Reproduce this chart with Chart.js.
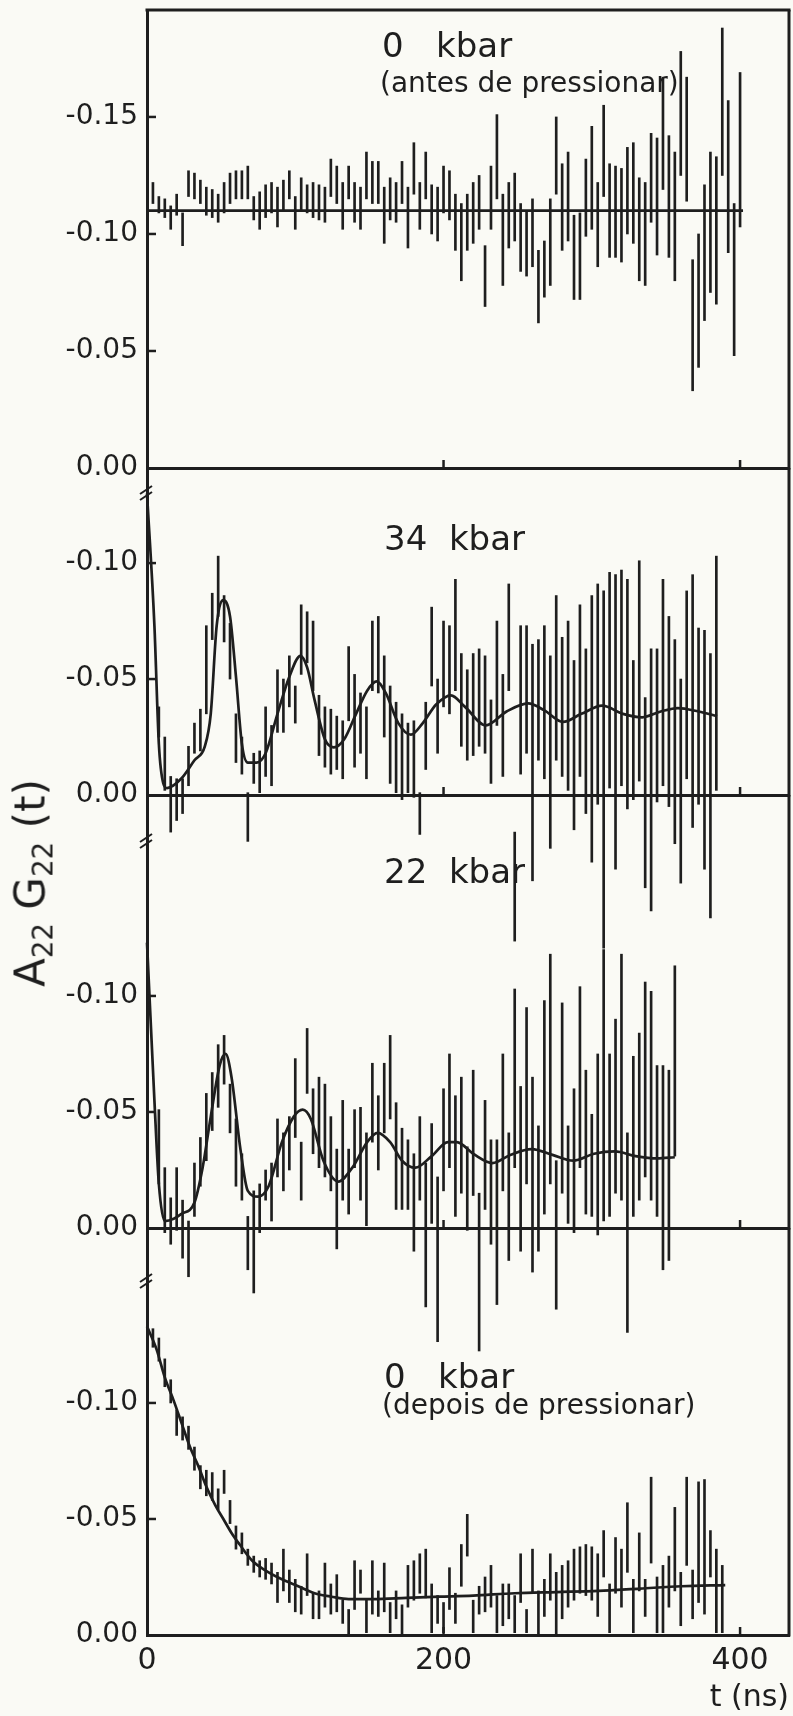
<!DOCTYPE html>
<html lang="pt">
<head>
<meta charset="utf-8">
<title>A22 G22 (t)</title>
<script src="https://cdn.jsdelivr.net/npm/chart.js@4.4.1/dist/chart.umd.min.js"></script>
<style>
  html, body { margin: 0; padding: 0; background: #fafaf5; overflow: hidden; }
  #fig { position: relative; width: 793px; height: 1716px; font-family: 'DejaVu Sans', sans-serif; color: #1e1e1e; }
  #fig canvas { position: absolute; left: 0; top: 0; }
  .lbl { position: absolute; white-space: pre; line-height: normal; }
  .big { font-size: 34px; }
  .sub { font-size: 28px; }
  #ytitle { position: absolute; left: 30px; top: 883px; font-size: 42px; white-space: nowrap;
            transform: translate(-50%, -50%) rotate(-90deg); }
  #ytitle sub { font-size: 0.66em; vertical-align: -0.28em; line-height: 0; }
</style>
</head>
<body>
<div id="fig">
  <canvas id="c1" width="793" height="1716"></canvas>
  <canvas id="c2" width="793" height="1716"></canvas>
  <canvas id="c3" width="793" height="1716"></canvas>
  <canvas id="c4" width="793" height="1716"></canvas>

  <div class="lbl big" style="left:382px;top:25px">0   kbar</div>
  <div class="lbl sub" style="left:380px;top:66px">(antes de pressionar)</div>
  <div class="lbl big" style="left:384px;top:518px">34  kbar</div>
  <div class="lbl big" style="left:384px;top:851px">22  kbar</div>
  <div class="lbl big" style="left:384px;top:1356px">0   kbar</div>
  <div class="lbl sub" style="left:382px;top:1388px">(depois de pressionar)</div>
  <div id="ytitle">A<sub>22</sub> G<sub>22</sub> (t)</div>
</div>

<script>
/* ── eixos ── */
const X_MAX = 433;
const X_TICKS = [0, 200, 400];
const Y_TICKS_TOP = [-0.15, -0.10, -0.05, 0];
const Y_TICKS = [-0.10, -0.05, 0];

// canais de tempo (ns), comuns aos quatro painéis
const CHANNEL_T = [4, 8, 12, 16, 20, 24, 28, 32, 36, 40, 44, 48, 52, 56, 60, 64, 68, 72, 76, 80,
  84, 88, 92, 96, 100, 104, 108, 112, 116, 120, 124, 128, 132, 136, 140, 144, 148, 152, 156, 160,
  164, 168, 172, 176, 180, 184, 188, 192, 196, 200, 204, 208, 212, 216, 220, 224, 228, 232, 236, 240,
  244, 248, 252, 256, 260, 264, 268, 272, 276, 280, 284, 288, 292, 296, 300, 304, 308, 312, 316, 320,
  324, 328, 332, 336, 340, 344, 348, 352, 356, 360, 364, 368, 372, 376, 380, 384, 388, 392, 396, 400];

/* ── 0 kbar (antes de pressionar) ── */
const p1Top = [-0.122, -0.116, -0.115, -0.112, -0.117, -0.109, -0.127, -0.126, -0.123, -0.120,
  -0.119, -0.117, -0.122, -0.126, -0.127, -0.127, -0.129, -0.116, -0.118, -0.121,
  -0.122, -0.120, -0.123, -0.127, -0.116, -0.124, -0.121, -0.122, -0.121, -0.120,
  -0.132, -0.129, -0.122, -0.129, -0.122, -0.120, -0.135, -0.131, -0.131, -0.120,
  -0.124, -0.122, -0.131, -0.120, -0.139, -0.122, -0.135, -0.121, -0.120, -0.129,
  -0.127, -0.117, -0.113, -0.117, -0.122, -0.125, -0.095, -0.129, -0.151, -0.117,
  -0.122, -0.126, -0.113, -0.110, -0.115, -0.093, -0.097, -0.115, -0.150, -0.130,
  -0.135, -0.108, -0.109, -0.132, -0.146, -0.122, -0.155, -0.130, -0.129, -0.128,
  -0.137, -0.139, -0.124, -0.122, -0.143, -0.141, -0.167, -0.142, -0.135, -0.178,
  -0.167, -0.089, -0.100, -0.121, -0.135, -0.133, -0.188, -0.157, -0.113, -0.169];
const p1Bot = [-0.113, -0.109, -0.107, -0.102, -0.108, -0.095, -0.116, -0.115, -0.113, -0.108,
  -0.107, -0.105, -0.109, -0.113, -0.115, -0.115, -0.115, -0.106, -0.102, -0.107,
  -0.109, -0.103, -0.110, -0.115, -0.102, -0.110, -0.109, -0.107, -0.106, -0.105,
  -0.116, -0.113, -0.102, -0.115, -0.105, -0.102, -0.115, -0.113, -0.113, -0.096,
  -0.106, -0.105, -0.113, -0.094, -0.117, -0.102, -0.115, -0.100, -0.097, -0.109,
  -0.106, -0.093, -0.080, -0.093, -0.096, -0.102, -0.069, -0.102, -0.115, -0.078,
  -0.094, -0.097, -0.084, -0.082, -0.086, -0.062, -0.073, -0.078, -0.117, -0.093,
  -0.097, -0.072, -0.072, -0.099, -0.102, -0.086, -0.116, -0.090, -0.090, -0.088,
  -0.100, -0.096, -0.080, -0.078, -0.105, -0.091, -0.119, -0.090, -0.080, -0.125,
  -0.114, -0.033, -0.043, -0.063, -0.075, -0.070, -0.125, -0.092, -0.048, -0.103];
const p1FitT = [0, 402];
const p1FitV = [-0.110, -0.110];

/* ── 34 kbar ── */
const p2Top = [-0.038, -0.025, -0.008, -0.007, -0.007, -0.021, -0.031, -0.037, -0.073, -0.087,
  -0.103, -0.086, -0.074, -0.035, -0.025, -0.001, -0.018, -0.019, -0.038, -0.030,
  -0.054, -0.050, -0.060, -0.047, -0.082, -0.079, -0.075, -0.043, -0.038, -0.037,
  -0.034, -0.032, -0.064, -0.052, -0.044, -0.038, -0.075, -0.077, -0.060, -0.047,
  -0.040, -0.035, -0.031, -0.032, -0.001, -0.040, -0.081, -0.050, -0.075, -0.073,
  -0.093, -0.061, -0.054, -0.061, -0.063, -0.060, -0.041, -0.075, -0.052, -0.091,
  0.016, -0.073, -0.073, -0.065, -0.067, -0.073, -0.060, -0.086, -0.068, -0.075,
  -0.058, -0.082, -0.063, -0.086, -0.091, -0.088, -0.096, -0.095, -0.097, -0.093,
  -0.058, -0.101, -0.042, -0.063, -0.063, -0.093, -0.077, -0.067, -0.050, -0.088,
  -0.095, -0.072, -0.071, -0.061, -0.103];
const p2Bot = [-0.025, -0.002, 0.016, 0.011, 0.008, -0.004, -0.018, -0.019, -0.035, -0.067,
  -0.077, -0.066, -0.050, -0.014, -0.009, 0.020, -0.005, -0.001, -0.008, -0.004,
  -0.027, -0.027, -0.038, -0.031, -0.052, -0.057, -0.045, -0.017, -0.012, -0.009,
  -0.011, -0.007, -0.032, -0.012, -0.018, -0.007, -0.045, -0.044, -0.025, -0.005,
  -0.001, 0.002, -0.001, 0.001, 0.017, -0.011, -0.047, -0.018, -0.038, -0.035,
  -0.045, -0.021, -0.015, -0.017, -0.021, -0.018, -0.005, -0.030, -0.008, -0.045,
  0.063, -0.009, -0.018, 0.037, -0.015, -0.007, 0.023, -0.015, -0.008, -0.002,
  0.015, -0.008, 0.008, 0.029, 0.004, 0.066, -0.003, 0.032, -0.004, 0.006,
  0.002, -0.006, 0.040, 0.050, 0.003, -0.004, 0.005, 0.021, 0.038, -0.007,
  0.014, 0.004, 0.032, 0.053, -0.002];
const p2FitT = [0, 5, 8, 11, 13.5, 23, 32, 39, 43, 47, 51.5, 56, 60, 64, 68, 74, 80, 88, 96, 103.5,
  108, 113, 120, 126, 133, 141, 148.5, 155, 161, 169.5, 178, 186, 195, 205, 214.5, 228.5, 242.5, 257,
  268, 280.5, 293, 307, 321, 334, 346.5, 358, 372, 384.5];
const p2FitV = [-0.130, -0.073, -0.022, -0.005, -0.003, -0.007, -0.015, -0.021, -0.035, -0.073,
  -0.084, -0.077, -0.051, -0.022, -0.014, -0.014, -0.018, -0.035, -0.051, -0.060,
  -0.055, -0.041, -0.024, -0.0205, -0.024, -0.035, -0.045, -0.049, -0.044, -0.031,
  -0.026, -0.031, -0.039, -0.043, -0.038, -0.030, -0.036, -0.0395, -0.0365, -0.0315,
  -0.035, -0.0385, -0.035, -0.0335, -0.036, -0.0375, -0.036, -0.034];

/* ── 22 kbar ── */
const p3Top = [-0.051, -0.026, -0.013, -0.026, -0.012, -0.003, -0.028, -0.039, -0.058, -0.067,
  -0.079, -0.083, -0.062, -0.047, -0.032, -0.005, -0.016, -0.019, -0.025, -0.028,
  -0.047, -0.041, -0.048, -0.073, -0.037, -0.086, -0.060, -0.065, -0.062, -0.048,
  -0.034, -0.055, -0.034, -0.051, -0.052, -0.041, -0.071, -0.057, -0.071, -0.083,
  -0.054, -0.043, -0.038, -0.032, -0.048, -0.028, -0.045, -0.022, -0.060, -0.075,
  -0.057, -0.065, -0.035, -0.068, -0.015, -0.055, -0.038, -0.038, -0.075, -0.041,
  -0.103, -0.061, -0.095, -0.065, -0.044, -0.098, -0.118, -0.029, -0.097, -0.044,
  -0.060, -0.104, -0.068, -0.049, -0.075, -0.120, -0.075, -0.090, -0.118, -0.041,
  -0.074, -0.084, -0.106, -0.102, -0.070, -0.070, -0.068, -0.113];
const p3Bot = [-0.019, 0.002, 0.007, 0.001, 0.013, 0.021, -0.005, -0.018, -0.029, -0.042,
  -0.052, -0.062, -0.041, -0.018, -0.012, 0.018, 0.028, 0.002, -0.012, -0.003,
  -0.022, -0.016, -0.025, -0.039, -0.012, -0.058, -0.032, -0.026, -0.022, -0.016,
  0.009, -0.012, -0.006, -0.026, -0.012, -0.001, -0.037, -0.025, -0.041, -0.047,
  -0.008, -0.008, -0.008, 0.010, -0.012, 0.034, -0.002, 0.049, -0.016, -0.026,
  -0.005, -0.015, 0.001, -0.014, 0.053, -0.008, 0.007, 0.033, -0.016, 0.014,
  -0.026, 0.010, -0.019, 0.019, 0.010, -0.006, -0.019, 0.035, -0.015, -0.002,
  0.002, -0.026, -0.006, -0.005, 0.003, -0.003, -0.005, -0.015, -0.012, 0.045,
  -0.005, -0.012, -0.022, -0.012, -0.005, 0.018, 0.014, -0.031];
const p3FitT = [0, 5, 8, 12, 18, 23, 32, 37.5, 43, 49, 53, 57, 63, 68, 75, 82, 91, 99, 105, 110.5,
  119, 129, 138.5, 148.5, 155.5, 164, 172, 181, 192, 203, 209, 220, 233, 245, 259.5, 273.5, 287.5,
  301.5, 315.5, 329.5, 344, 356];
const p3FitV = [-0.123, -0.055, -0.019, -0.003, -0.004, -0.006, -0.011, -0.026, -0.048, -0.070,
  -0.075, -0.065, -0.034, -0.016, -0.0135, -0.018, -0.037, -0.048, -0.051, -0.047,
  -0.029, -0.020, -0.026, -0.037, -0.041, -0.037, -0.029, -0.026, -0.031, -0.037,
  -0.037, -0.032, -0.028, -0.0315, -0.034, -0.0315, -0.029, -0.032, -0.033, -0.031,
  -0.030, -0.0305];

/* ── 0 kbar (depois de pressionar) ── */
const p4Top = [-0.132, -0.128, -0.119, -0.110, -0.097, -0.094, -0.090, -0.081, -0.073, -0.071,
  -0.070, -0.063, -0.071, -0.058, -0.047, -0.044,
  -0.037, -0.034, -0.032, -0.033, -0.031, -0.027, -0.037, -0.028, -0.024, -0.021,
  -0.035, -0.018, -0.019, -0.031, -0.022, -0.026, -0.015, -0.011, -0.032, -0.028,
  -0.015, -0.032, -0.019, -0.031, -0.014, -0.019, -0.013, -0.030, -0.032, -0.035,
  -0.037, -0.022, -0.017, -0.014, -0.029, -0.018, -0.039, -0.052, -0.015, -0.021,
  -0.025, -0.030, -0.017, -0.022, -0.022, -0.017, -0.035, -0.011, -0.037, -0.019,
  -0.024, -0.035, -0.027, -0.030, -0.032, -0.037, -0.038, -0.039, -0.038, -0.035,
  -0.045, -0.022, -0.042, -0.037, -0.057, -0.024, -0.044, -0.024, -0.068, -0.025,
  -0.030, -0.034, -0.055, -0.027, -0.068, -0.028, -0.066, -0.067, -0.045, -0.037, -0.030];
const p4Bot = [-0.124, -0.118, -0.107, -0.100, -0.086, -0.084, -0.080, -0.071, -0.063, -0.060,
  -0.058, -0.054, -0.061, -0.048, -0.037, -0.035,
  -0.030, -0.027, -0.025, -0.024, -0.022, -0.014, -0.019, -0.014, -0.010, -0.009,
  -0.017, -0.007, -0.007, -0.012, -0.009, -0.010, -0.005, 0.000, -0.011, -0.018,
  -0.001, -0.009, -0.008, -0.010, -0.001, -0.007, 0.000, -0.012, -0.015, -0.018,
  -0.016, -0.001, -0.005, -0.001, -0.011, -0.005, -0.021, -0.034, -0.001, -0.009,
  -0.010, -0.012, -0.001, -0.004, -0.007, -0.001, -0.014, -0.001, -0.018, 0.000,
  -0.008, -0.015, 0.000, -0.007, -0.012, -0.015, -0.018, -0.017, -0.015, -0.008,
  -0.025, -0.001, -0.018, -0.012, -0.027, -0.001, -0.019, -0.008, -0.031, -0.001,
  -0.001, -0.012, -0.019, -0.004, -0.030, -0.007, -0.014, -0.009, -0.025, -0.001, -0.001];
const p4FitT = [0, 6.5, 12, 18, 23.5, 29, 34.5, 40, 46, 51.5, 57, 62.5, 71, 79.5, 91, 102, 113,
  124.5, 136, 152.5, 175, 197.5, 220, 248, 276, 304.5, 332.5, 360.5, 390];
const p4FitV = [-0.133, -0.123, -0.111, -0.101, -0.091, -0.081, -0.073, -0.064, -0.056, -0.050,
  -0.044, -0.039, -0.032, -0.028, -0.024, -0.021, -0.018, -0.0165, -0.0155, -0.0155,
  -0.016, -0.0165, -0.017, -0.018, -0.0185, -0.019, -0.020, -0.021, -0.0215];

/* ── layout (px) ── */
const W = 793, H = 1716;
const LEFT = 147;    // eixo vertical
const RIGHT = 789;   // moldura direita
const INK = '#1e1e1e';
const FONT = "'DejaVu Sans', sans-serif";

const PANELS = [
  { id: 'c1', top: 10,   bottom: 468,  min: -0.1957, ticks: Y_TICKS_TOP, first: 0,
    tops: p1Top, bots: p1Bot, fitT: p1FitT, fitV: p1FitV, topLine: true },
  { id: 'c2', top: 468,  bottom: 795,  min: -0.1410, ticks: Y_TICKS, first: 1,
    tops: p2Top, bots: p2Bot, fitT: p2FitT, fitV: p2FitV, breakAt: 22 },
  { id: 'c3', top: 795,  bottom: 1228, min: -0.1866, ticks: Y_TICKS, first: 1,
    tops: p3Top, bots: p3Bot, fitT: p3FitT, fitV: p3FitV, breakAt: 43 },
  { id: 'c4', top: 1228, bottom: 1635, min: -0.1754, ticks: Y_TICKS, first: 0,
    tops: p4Top, bots: p4Bot, fitT: p4FitT, fitV: p4FitV, breakAt: 50, last: true }
];

/* moldura direita, marcas internas dos eixos e quebra "//" */
const framePlugin = {
  id: 'panelFrame',
  afterDraw(chart, args, o) {
    const { ctx, chartArea: a } = chart;
    const sx = chart.scales.x, sy = chart.scales.y;
    const seg = function (x1, y1, x2, y2) { ctx.beginPath(); ctx.moveTo(x1, y1); ctx.lineTo(x2, y2); ctx.stroke(); };
    ctx.save();
    ctx.strokeStyle = INK;
    ctx.lineWidth = 3;
    seg(a.right, a.top, a.right, a.bottom + 1.5);
    if (o.topLine) seg(a.left - 1.5, a.top, a.right + 1.5, a.top);
    ctx.lineWidth = 2.5;
    o.yTicks.forEach(function (v) {
      if (v === 0) return;
      const py = sy.getPixelForValue(v);
      seg(a.left, py, a.left + 9, py);
    });
    X_TICKS.forEach(function (v) {
      if (v <= 0) return;
      const px = sx.getPixelForValue(v);
      seg(px, a.bottom, px, a.bottom - 8);
    });
    if (o.breakAt) {
      ctx.lineWidth = 2;
      const by = a.top + o.breakAt;
      [0, 6].forEach(function (d) { seg(a.left - 7, by + 4 + d, a.left + 5, by - 4 + d); });
    }
    ctx.restore();
  }
};

function makePanel(p) {
  const last = !!p.last;
  const bars = p.tops.map(function (v, i) { return { x: CHANNEL_T[p.first + i], y: [p.bots[i], v] }; });
  const fit = p.fitT.map(function (t, i) { return { x: t, y: p.fitV[i] }; });
  return new Chart(document.getElementById(p.id), {
    type: 'bar',
    data: {
      datasets: [
        { type: 'line', data: fit, borderColor: INK, borderWidth: 2.7, pointRadius: 0,
          cubicInterpolationMode: 'monotone', clip: false, order: 0 },
        { type: 'bar', data: bars, backgroundColor: INK, barThickness: 2, clip: false, order: 1 }
      ]
    },
    options: {
      responsive: false, animation: false, devicePixelRatio: 1, events: [],
      layout: { padding: { top: p.top, right: W - RIGHT, bottom: last ? 0 : H - p.bottom, left: 0 } },
      plugins: {
        legend: { display: false }, tooltip: { enabled: false },
        panelFrame: { yTicks: p.ticks, topLine: !!p.topLine, breakAt: p.breakAt || 0 }
      },
      scales: {
        x: {
          type: 'linear', min: 0, max: X_MAX, offset: false,
          grid: { display: false, drawTicks: false },
          border: { display: true, color: INK, width: 3 },
          afterBuildTicks: function (s) { s.ticks = X_TICKS.map(function (v) { return { value: v }; }); },
          afterFit: function (s) { s.height = last ? H - p.bottom : 0; },
          ticks: { display: last, autoSkip: false, maxRotation: 0, padding: 8, color: INK,
                   font: { family: FONT, size: 30 } },
          title: { display: last, text: 't (ns)', align: 'end', color: INK,
                   padding: { top: 0, bottom: 0 }, font: { family: FONT, size: 30 } }
        },
        y: {
          type: 'linear', reverse: true, min: p.min, max: 0,
          grid: { display: false, drawTicks: false },
          border: { display: true, color: INK, width: 3 },
          afterBuildTicks: function (s) { s.ticks = p.ticks.map(function (v) { return { value: v }; }); },
          // largura fixa do eixo e sem folga extra para os rótulos
          afterFit: function (s) { s.width = LEFT; s.paddingTop = 0; s.paddingBottom = 0; },
          ticks: { padding: 9, color: INK, font: { family: FONT, size: 28 },
                   callback: function (v) { return v === 0 ? '0.00' : Number(v).toFixed(2); } }
        }
      }
    },
    plugins: [framePlugin]
  });
}

PANELS.forEach(makePanel);
</script>
</body>
</html>
